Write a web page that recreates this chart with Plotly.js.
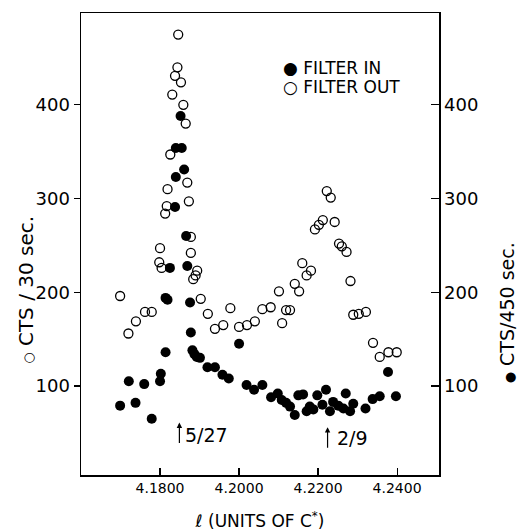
<!DOCTYPE html>
<html>
<head>
<meta charset="utf-8">
<script src="https://cdn.plot.ly/plotly-3.0.1.min.js"></script>
<style>html,body{margin:0;padding:0;background:#fff}#chart{width:517px;height:531px}</style>
</head>
<body>
<div id="chart"></div>
<script>
// FILTER IN (filled circles, CTS/450 sec., right axis)
const filterInL = [4.1699,4.1721,4.1738,4.1760,4.1779,4.1800,4.1802,4.1814,4.1814,4.1819,4.1825,4.1838,4.1840,4.1840,4.1855,4.1861,4.1852,4.1866,4.1869,4.1876,4.1878,4.1882,4.1887,4.1893,4.1901,4.1920,4.1939,4.1958,4.1974,4.2000,4.2019,4.2038,4.2059,4.2081,4.2098,4.2108,4.2119,4.2129,4.2141,4.2150,4.2162,4.2171,4.2179,4.2188,4.2198,4.2211,4.2220,4.2230,4.2238,4.2251,4.2264,4.2270,4.2281,4.2289,4.2320,4.2338,4.2356,4.2377,4.2397];
const filterInCts = [79,105,82,102,65,105,113,136,194,192,226,291,323,354,354,331,388,260,228,189,157,138,134,131,130,120,120,112,108,145,101,96,101,88,92,85,82,78,69,90,91,73,78,75,90,80,96,73,83,79,76,92,73,81,76,86,89,115,89];

// FILTER OUT (open circles, CTS/30 sec., left axis)
const filterOutL = [4.1699,4.1720,4.1739,4.1762,4.1779,4.1798,4.1800,4.1804,4.1813,4.1817,4.1819,4.1826,4.1831,4.1838,4.1844,4.1846,4.1853,4.1859,4.1865,4.1869,4.1873,4.1878,4.1878,4.1884,4.1890,4.1894,4.1903,4.1921,4.1939,4.1960,4.1978,4.2000,4.2020,4.2040,4.2059,4.2080,4.2101,4.2109,4.2119,4.2129,4.2141,4.2152,4.2160,4.2171,4.2182,4.2192,4.2202,4.2212,4.2222,4.2232,4.2242,4.2253,4.2260,4.2272,4.2282,4.2289,4.2303,4.2321,4.2339,4.2356,4.2378,4.2399];
const filterOutCts = [196,156,169,179,179,232,247,226,284,292,310,347,411,431,440,475,424,400,380,317,297,259,242,214,218,223,193,177,161,165,183,163,165,169,182,184,201,167,181,181,209,201,231,218,223,267,272,277,308,301,275,252,249,243,212,176,177,179,146,131,136,136];

const xTicks = [4.18, 4.20, 4.22, 4.24];
const xTickText = ['4.1800', '4.2000', '4.2200', '4.2400'];
const yTicks = [100, 200, 300, 400];
const yTickText = ['100', '200', '300', '400'];

const FONT = 'DejaVu Sans, Liberation Sans, sans-serif';

const traces = [
  {x: filterOutL, y: filterOutCts, type: 'scatter', mode: 'markers', name: 'FILTER OUT', yaxis: 'y',
   marker: {symbol: 'circle-open', size: 9, color: '#000', line: {width: 1.3, color: '#000'}}},
  {x: filterInL, y: filterInCts, type: 'scatter', mode: 'markers', name: 'FILTER IN', yaxis: 'y2',
   marker: {symbol: 'circle', size: 10, color: '#000'}}
];

const layout = {
  width: 517, height: 531,
  margin: {l: 81, r: 78, t: 13, b: 56, pad: 0},
  paper_bgcolor: '#fff', plot_bgcolor: '#fff',
  showlegend: false,
  font: {family: FONT, color: '#000'},
  xaxis: {
    range: [4.16, 4.2506], tickvals: xTicks, ticktext: xTickText,
    ticks: 'inside', ticklen: 7, tickwidth: 1.2, tickcolor: '#000',
    showline: true, linecolor: '#000', linewidth: 1.5, mirror: true,
    showgrid: false, zeroline: false,
    tickfont: {family: FONT, size: 14, color: '#000'},
    title: {text: 'ℓ (UNITS OF C<sup>*</sup>)', font: {family: FONT, size: 17, color: '#000'}, standoff: 24}
  },
  yaxis: {
    range: [5, 498], tickvals: yTicks, ticktext: yTickText,
    ticks: 'outside', ticklen: 6, tickwidth: 1.2, tickcolor: '#000',
    showline: true, linecolor: '#000', linewidth: 1.5,
    showgrid: false, zeroline: false,
    tickfont: {family: FONT, size: 18, color: '#000'}
  },
  yaxis2: {
    range: [5, 498], tickvals: yTicks, ticktext: yTickText,
    overlaying: 'y', side: 'right',
    ticks: 'inside', ticklen: 8, tickwidth: 1.2, tickcolor: '#000',
    showline: true, linecolor: '#000', linewidth: 1.5,
    showgrid: false, zeroline: false,
    tickfont: {family: FONT, size: 18, color: '#000'}
  },
  annotations: [
    {x: 4.1849, y: 61, xref: 'x', yref: 'y', text: '', showarrow: true, ax: 0, ay: 22,
     arrowhead: 2, arrowsize: 0.9, arrowwidth: 1.2, arrowcolor: '#000'},
    {x: 4.1857, y: 48, xref: 'x', yref: 'y', text: '5/27', showarrow: false, xanchor: 'left', yanchor: 'middle',
     font: {family: FONT, size: 19, color: '#000'}},
    {x: 4.2224, y: 56, xref: 'x', yref: 'y', text: '', showarrow: true, ax: 0, ay: 22,
     arrowhead: 2, arrowsize: 0.9, arrowwidth: 1.2, arrowcolor: '#000'},
    {x: 4.2242, y: 44, xref: 'x', yref: 'y', text: '2/9', showarrow: false, xanchor: 'left', yanchor: 'middle',
     font: {family: FONT, size: 19, color: '#000'}},
    {x: 0.5587, y: 0.8810, xref: 'paper', yref: 'paper', text: '● FILTER IN', showarrow: false,
     xanchor: 'left', yanchor: 'middle', font: {family: FONT, size: 17, color: '#000'}},
    {x: 0.5587, y: 0.8398, xref: 'paper', yref: 'paper', text: '○ FILTER OUT', showarrow: false,
     xanchor: 'left', yanchor: 'middle', font: {family: FONT, size: 17, color: '#000'}},
    {x: -0.152, y: 0.40, xref: 'paper', yref: 'paper', text: '<span style="font-size:13px;color:#000">○</span> CTS / 30 sec.', showarrow: false,
     textangle: -90, xanchor: 'center', yanchor: 'middle', font: {family: FONT, size: 20, color: '#000'}},
    {x: 1.19, y: 0.35, xref: 'paper', yref: 'paper', text: '<span style="font-size:13px;color:#000">●</span> CTS/450 sec.', showarrow: false,
     textangle: -90, xanchor: 'center', yanchor: 'middle', font: {family: FONT, size: 19, color: '#000'}}
  ]
};

Plotly.newPlot('chart', traces, layout, {staticPlot: true, displayModeBar: false});
</script>
</body>
</html>
